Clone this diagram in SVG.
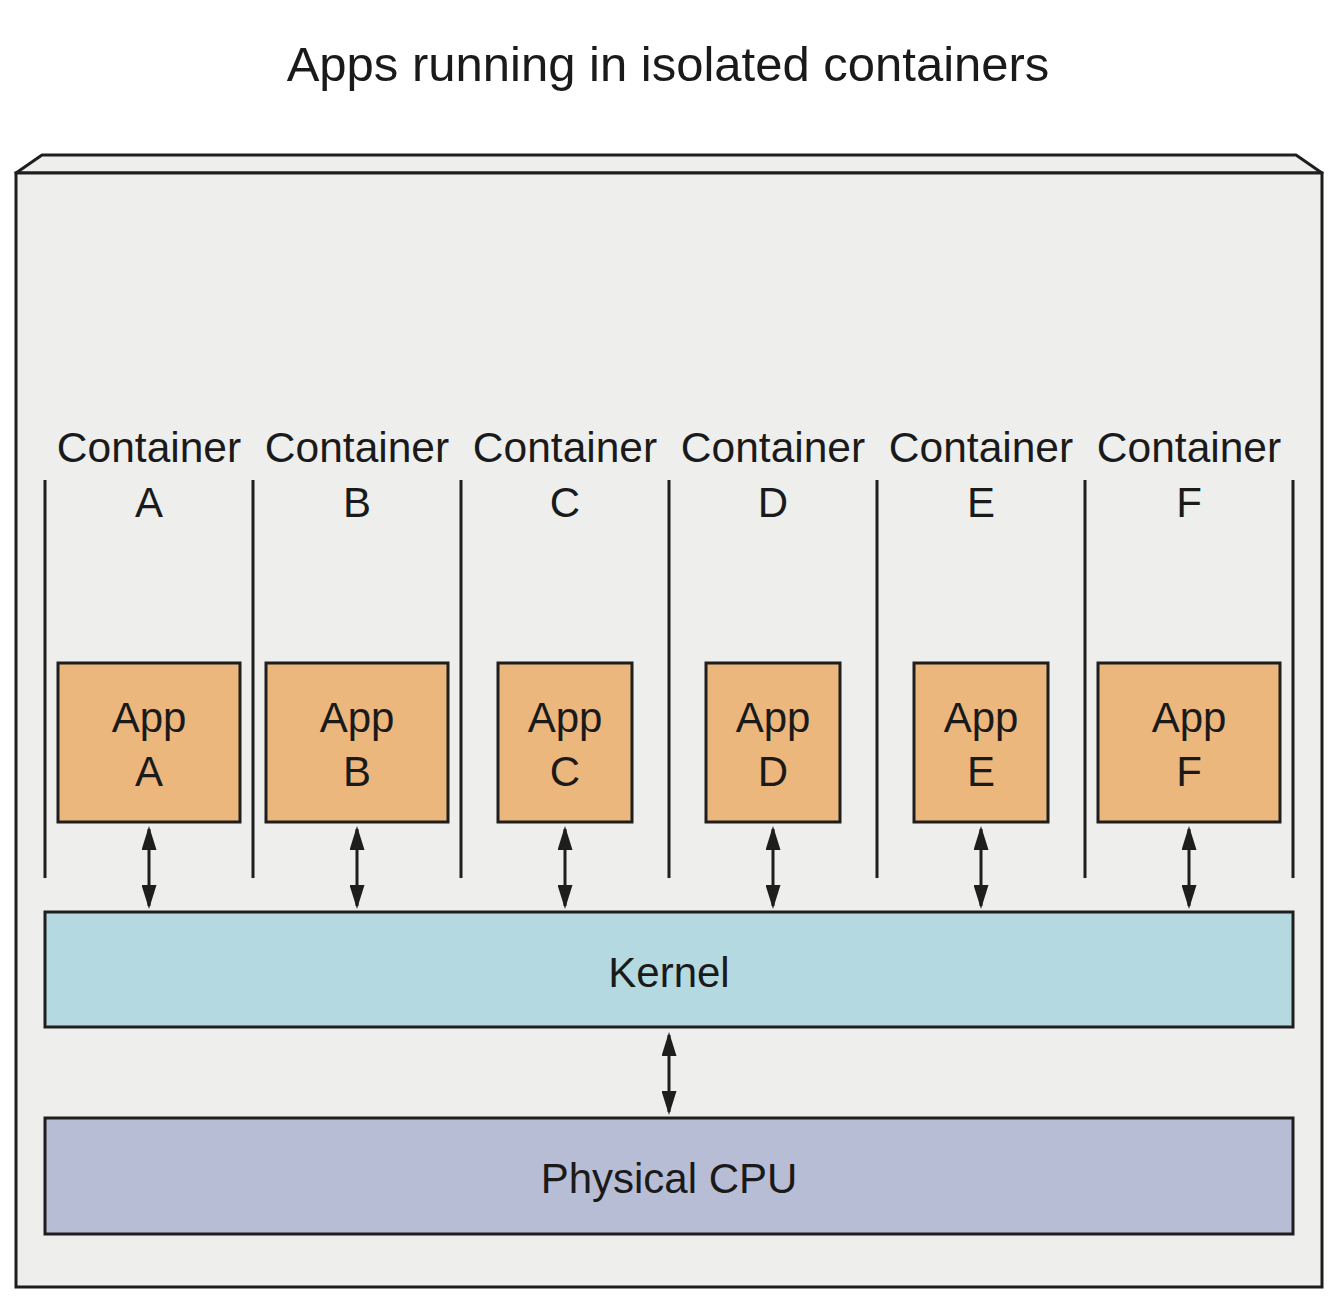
<svg xmlns="http://www.w3.org/2000/svg" width="1340" height="1314" viewBox="0 0 1340 1314">
<defs>
<style>
text{font-family:"Liberation Sans",Arial,sans-serif;fill:#1a1a1a;text-anchor:middle}
.lbl{font-size:42px}
.cl{font-size:42.5px}
.ln{stroke:#1e1e1e;stroke-width:3;fill:none}
.app{fill:#ebb77d;stroke:#1e1e1e;stroke-width:3}
.conn{stroke:#1e1e1e;stroke-width:3;fill:none;marker-start:url(#ah);marker-end:url(#ah)}
</style>
<marker id="ah" viewBox="0 0 16 10" refX="14" refY="5" markerWidth="8" markerHeight="5" orient="auto-start-reverse" markerUnits="strokeWidth">
<path d="M0,0 L16,5 L0,10 Z" fill="#1e1e1e"/>
</marker>
</defs>
<rect width="1340" height="1314" fill="#ffffff"/>
<text x="668" y="81" style="font-size:49px">Apps running in isolated containers</text>
<g id="host">
<path d="M16,173 L42,155 L1296,155 L1322,173 Z" fill="#eeeeec" stroke="#1e1e1e" stroke-width="3" stroke-linejoin="round"/>
<rect x="16" y="173" width="1306" height="1114" fill="#eeeeec" stroke="#1e1e1e" stroke-width="3"/>
</g>
<g id="dividers">
<line class="ln" x1="45" y1="480" x2="45" y2="878"/>
<line class="ln" x1="253" y1="480" x2="253" y2="878"/>
<line class="ln" x1="461" y1="480" x2="461" y2="878"/>
<line class="ln" x1="669" y1="480" x2="669" y2="878"/>
<line class="ln" x1="877" y1="480" x2="877" y2="878"/>
<line class="ln" x1="1085" y1="480" x2="1085" y2="878"/>
<line class="ln" x1="1293" y1="480" x2="1293" y2="878"/>
</g>
<g id="containerA"><text class="cl" x="149" y="462">Container</text><text class="lbl" x="149" y="517">A</text></g>
<g id="containerB"><text class="cl" x="357" y="462">Container</text><text class="lbl" x="357" y="517">B</text></g>
<g id="containerC"><text class="cl" x="565" y="462">Container</text><text class="lbl" x="565" y="517">C</text></g>
<g id="containerD"><text class="cl" x="773" y="462">Container</text><text class="lbl" x="773" y="517">D</text></g>
<g id="containerE"><text class="cl" x="981" y="462">Container</text><text class="lbl" x="981" y="517">E</text></g>
<g id="containerF"><text class="cl" x="1189" y="462">Container</text><text class="lbl" x="1189" y="517">F</text></g>
<g id="appA"><rect class="app" x="58" y="663" width="182" height="159"/><text class="lbl" x="149" y="732">App</text><text class="lbl" x="149" y="786">A</text></g>
<g id="appB"><rect class="app" x="266" y="663" width="182" height="159"/><text class="lbl" x="357" y="732">App</text><text class="lbl" x="357" y="786">B</text></g>
<g id="appC"><rect class="app" x="498" y="663" width="134" height="159"/><text class="lbl" x="565" y="732">App</text><text class="lbl" x="565" y="786">C</text></g>
<g id="appD"><rect class="app" x="706" y="663" width="134" height="159"/><text class="lbl" x="773" y="732">App</text><text class="lbl" x="773" y="786">D</text></g>
<g id="appE"><rect class="app" x="914" y="663" width="134" height="159"/><text class="lbl" x="981" y="732">App</text><text class="lbl" x="981" y="786">E</text></g>
<g id="appF"><rect class="app" x="1098" y="663" width="182" height="159"/><text class="lbl" x="1189" y="732">App</text><text class="lbl" x="1189" y="786">F</text></g>
<g id="kernel"><rect x="45" y="912" width="1248" height="115" fill="#b4d9e0" stroke="#1e1e1e" stroke-width="3"/><text class="lbl" x="669" y="987">Kernel</text></g>
<g id="cpu"><rect x="45" y="1118" width="1248" height="116" fill="#b7bdd5" stroke="#1e1e1e" stroke-width="3"/><text class="lbl" x="669" y="1193">Physical CPU</text></g>
<g id="connectors">
<line class="conn" x1="149" y1="829" x2="149" y2="906"/>
<line class="conn" x1="357" y1="829" x2="357" y2="906"/>
<line class="conn" x1="565" y1="829" x2="565" y2="906"/>
<line class="conn" x1="773" y1="829" x2="773" y2="906"/>
<line class="conn" x1="981" y1="829" x2="981" y2="906"/>
<line class="conn" x1="1189" y1="829" x2="1189" y2="906"/>
<line class="conn" x1="669" y1="1035" x2="669" y2="1112"/>
</g>
</svg>
